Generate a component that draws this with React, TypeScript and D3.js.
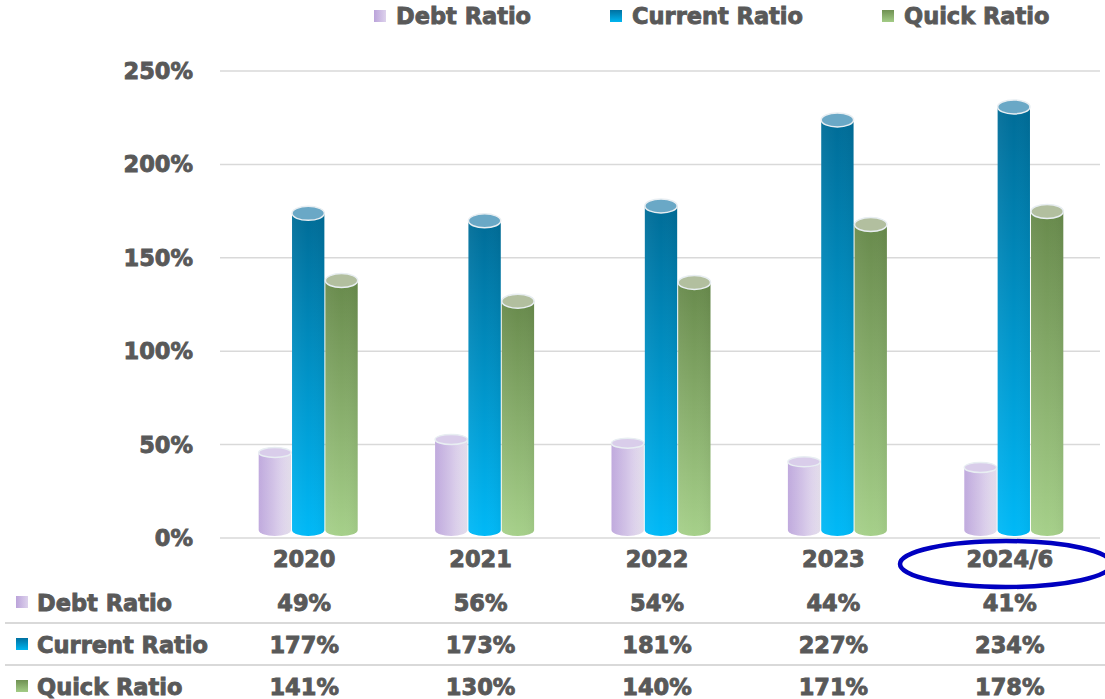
import React from "react";
import * as d3 from "d3";

const categories = ["2020", "2021", "2022", "2023", "2024/6"];
const debtRatio = [49, 56, 54, 44, 41];
const currentRatio = [177, 173, 181, 227, 234];
const quickRatio = [141, 130, 140, 171, 178];
const yTicks = [0, 50, 100, 150, 200, 250];
const seriesNames = ["Debt Ratio", "Current Ratio", "Quick Ratio"];

const W = 1105;
const H = 699;
const FONT = "'Arial Black', 'DejaVu Sans', sans-serif";
const TXT = "#595959";

const T = (props: any) => (
  <text fontFamily={FONT} fontWeight={700} fontSize={22.5} fill={TXT} stroke={TXT} strokeWidth={0.9} {...props} />
);

export default function App() {
  const x = d3.scaleBand<string>().domain(categories).range([220, 1102]);
  const y = d3.scaleLinear().domain([0, 250]).range([538, 71]);
  const inner = d3.scaleBand<number>().domain([0, 1, 2]).range([-50, 50]);
  const series = [debtRatio, currentRatio, quickRatio];
  const fills = ["url(#gDebt)", "url(#gCur)", "url(#gQuick)"];
  const topFills = ["#d9cdea", "#6aa8c6", "#b2bf9f"];
  const legendFills = ["url(#lgDebt)", "url(#lgCur)", "url(#lgQuick)"];
  const legendX = [374, 610, 882];
  const ry = 7;

  const cyl = (cx: number, bw: number, v: number, i: number, s: number) => {
    const x0 = cx - bw / 2;
    const x1 = cx + bw / 2;
    const yt = y(v) + 6;
    const yb = y(0) - 2;
    const rr = 6;
    const d = `M${x0},${yt} L${x1},${yt} L${x1},${yb - rr} A${bw / 2},${rr} 0 0 1 ${x0},${yb - rr} Z`;
    return (
      <g key={`c${i}-${s}`}>
        <path d={d} fill={fills[s]} />
        <path d={d} fill="url(#gShade)" />
        <ellipse cx={cx} cy={yt} rx={bw / 2} ry={s === 0 ? 5 : ry} fill={topFills[s]} stroke="#e8eef2" strokeWidth={1.5} />
      </g>
    );
  };

  return (
    <svg width={W} height={H} style={{ display: "block", position: "absolute", left: 0, top: 0 }}>
      <defs>
        <linearGradient id="gDebt" x1="0" y1="0" x2="1" y2="0">
          <stop offset="0" stopColor="#bda6dc" />
          <stop offset="1" stopColor="#ebe5f3" />
        </linearGradient>
        <linearGradient id="gCur" x1="0" y1="0" x2="0" y2="1">
          <stop offset="0" stopColor="#006c97" />
          <stop offset="1" stopColor="#00b9f7" />
        </linearGradient>
        <linearGradient id="gQuick" x1="0" y1="0" x2="0" y2="1">
          <stop offset="0" stopColor="#688a4c" />
          <stop offset="1" stopColor="#a6d08a" />
        </linearGradient>
        <linearGradient id="gShade" x1="0" y1="0" x2="1" y2="0">
          <stop offset="0" stopColor="#ffffff" stopOpacity="0.05" />
          <stop offset="0.5" stopColor="#ffffff" stopOpacity="0" />
          <stop offset="1" stopColor="#000000" stopOpacity="0.04" />
        </linearGradient>
        <linearGradient id="lgDebt" x1="0" y1="0" x2="1" y2="0">
          <stop offset="0" stopColor="#bba3da" />
          <stop offset="1" stopColor="#ddd2ec" />
        </linearGradient>
        <linearGradient id="lgCur" x1="0" y1="0" x2="0" y2="1">
          <stop offset="0" stopColor="#0070a0" />
          <stop offset="1" stopColor="#00b5f0" />
        </linearGradient>
        <linearGradient id="lgQuick" x1="0" y1="0" x2="0" y2="1">
          <stop offset="0" stopColor="#6f9052" />
          <stop offset="1" stopColor="#a3cc86" />
        </linearGradient>
      </defs>
      <rect width={W} height={H} fill="#fff" />

      {/* legend */}
      {seriesNames.map((n, s) => (
        <g key={n}>
          <rect x={legendX[s]} y={10} width={12} height={12} fill={legendFills[s]} />
          <T x={legendX[s] + 22} y={24}>{n}</T>
        </g>
      ))}

      {/* grid */}
      {yTicks.map((t) => (
        <g key={t}>
          <line x1={220} x2={1100} y1={y(t)} y2={y(t)} stroke="#d9d9d9" strokeWidth={1.5} />
          <T x={193} y={y(t) + 8} textAnchor="end">{t}%</T>
        </g>
      ))}

      {/* bars */}
      {categories.map((c, i) => {
        const cx = (x(c) as number) + x.bandwidth() / 2;
        return series.map((arr, s) => {
          const bx = cx + (inner(s) as number) + inner.bandwidth() / 2;
          return cyl(bx, inner.bandwidth() - 1, arr[i], i, s);
        });
      })}

      {/* category labels */}
      {categories.map((c) => (
        <T key={c} x={(x(c) as number) + x.bandwidth() / 2 - 4} y={567} textAnchor="middle">{c}</T>
      ))}

      {/* highlight ellipse */}
      <ellipse cx={1006} cy={564} rx={106} ry={23} fill="none" stroke="#0000c0" strokeWidth={4.5} />

      {/* table */}
      <line x1={5} x2={1105} y1={623} y2={623} stroke="#d9d9d9" strokeWidth={2} />
      <line x1={5} x2={1105} y1={665} y2={665} stroke="#d9d9d9" strokeWidth={2} />
      {seriesNames.map((n, s) => {
        const ty = 611 + s * 42;
        return (
          <g key={`row${n}`}>
            <rect x={16} y={ty - 15} width={12} height={12} fill={legendFills[s]} />
            <T x={37} y={ty}>{n}</T>
            {categories.map((c, i) => (
              <T key={c} x={(x(c) as number) + x.bandwidth() / 2 - 4} y={ty} textAnchor="middle">{series[s][i]}%</T>
            ))}
          </g>
        );
      })}
    </svg>
  );
}
